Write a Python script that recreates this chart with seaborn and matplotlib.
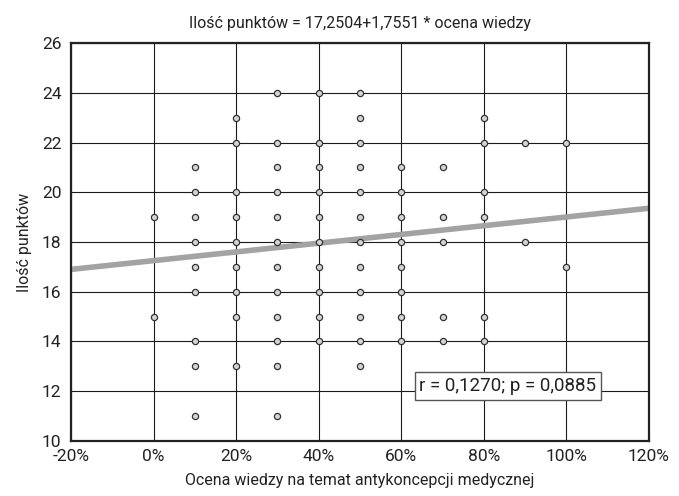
import matplotlib
matplotlib.use("Agg")
import matplotlib.pyplot as plt
import seaborn as sns
import numpy as np
import pandas as pd
from matplotlib.ticker import FuncFormatter

# Data (knowledge score fraction -> points)
col_0 = [19, 15]
col_10 = [21, 20, 19, 18, 17, 16, 14, 13, 11]
col_20 = [23, 22, 20, 19, 18, 17, 16, 15, 13]
col_30 = [24, 22, 21, 20, 19, 18, 17, 16, 15, 14, 13, 11]
col_40 = [24, 22, 21, 20, 19, 18, 17, 16, 15, 14]
col_50 = [24, 23, 22, 21, 20, 19, 18, 17, 16, 15, 14, 13]
col_60 = [21, 20, 19, 18, 17, 16, 15, 14]
col_70 = [21, 19, 18, 15, 14]
col_80 = [23, 22, 20, 19, 15, 14]
col_90 = [22, 18]
col_100 = [22, 17]
knowledge_levels = [0.0, 0.1, 0.2, 0.3, 0.4, 0.5, 0.6, 0.7, 0.8, 0.9, 1.0]
columns = [col_0, col_10, col_20, col_30, col_40, col_50, col_60, col_70,
           col_80, col_90, col_100]

intercept = 17.2504
slope = 1.7551
title = "Ilość punktów = 17,2504+1,7551 * ocena wiedzy"
xlabel = "Ocena wiedzy na temat antykoncepcji medycznej"
ylabel = "Ilość punktów"
stats_text = "r = 0,1270; p = 0,0885"
x_ticks = [-0.2, 0.0, 0.2, 0.4, 0.6, 0.8, 1.0, 1.2]
y_ticks = [10, 12, 14, 16, 18, 20, 22, 24, 26]

rows = []
for xv, ys in zip(knowledge_levels, columns):
    for yv in ys:
        rows.append({"ocena": xv, "punkty": yv})
df = pd.DataFrame(rows)

sns.set_style("white")
plt.rcParams['font.family'] = ['Roboto', 'DejaVu Sans']

fig = plt.figure(figsize=(6.79, 4.96), dpi=100)
ax = fig.add_axes([0.1046, 0.1109, 0.8512, 0.8024])

ax.set_xlim(-0.2, 1.2)
ax.set_ylim(10, 26)
ax.set_xticks(x_ticks)
ax.set_yticks(y_ticks)
ax.grid(True, color="#1a1a1a", linewidth=0.8)
ax.set_axisbelow(True)

line_x = np.array([-0.2, 1.2])
ax.plot(line_x, intercept + slope * line_x, color="#a3a3a3", linewidth=4,
        solid_capstyle="butt", zorder=2)

sns.scatterplot(data=df, x="ocena", y="punkty", ax=ax, s=20,
                color="#d4d4d4", edgecolor="#333333", linewidth=0.9, zorder=3)

ax.xaxis.set_major_formatter(FuncFormatter(lambda v, p: f"{v*100:.0f}%"))
ax.tick_params(axis="x", labelsize=12.5, length=0, pad=6, colors="#222222")
ax.tick_params(axis="y", labelsize=12.5, length=0, pad=7, colors="#222222")
for sp in ax.spines.values():
    sp.set_color("#222222")
    sp.set_linewidth(1.6)

ax.set_title(title, fontsize=11.5, pad=11, color="#222222")
ax.set_xlabel(xlabel, fontsize=11.5, labelpad=6, color="#222222")
ax.set_ylabel(ylabel, fontsize=11.5, labelpad=7, color="#222222")

ax.text(0.858, 12.21, stats_text, ha="center", va="center", fontsize=13.5,
        color="#222222", zorder=5,
        bbox=dict(boxstyle="square,pad=0.25", facecolor="white",
                  edgecolor="#555555", linewidth=1.0))

fig.savefig("out.png", dpi=100)
